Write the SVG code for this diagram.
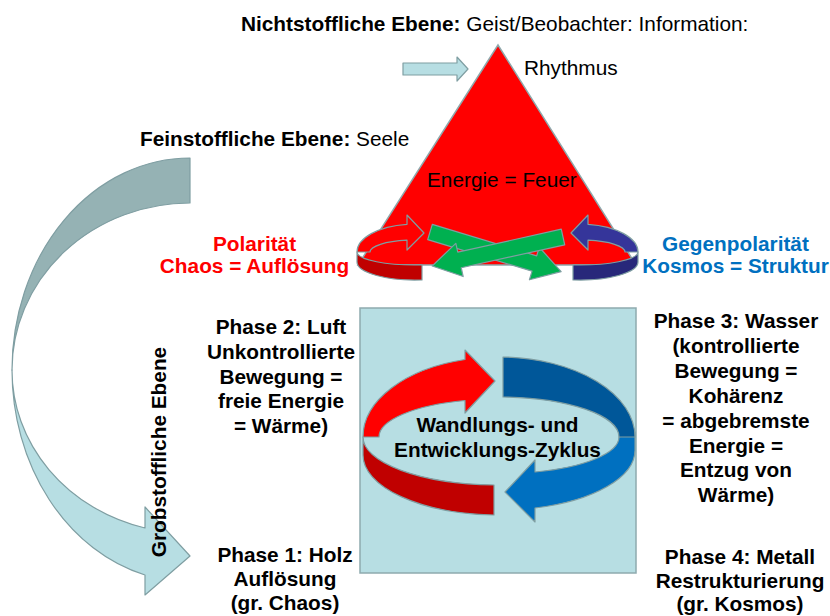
<svg xmlns="http://www.w3.org/2000/svg" width="830" height="616" viewBox="0 0 830 616">
<style>
text{font-family:"Liberation Sans",Arial,sans-serif;font-size:20.8px;fill:#000}
.b{font-weight:bold}
.m{text-anchor:middle}
.red{fill:#FF0000}
.blu{fill:#0070C0}
.ol{stroke:#7F9EA2;stroke-width:1.2;stroke-linejoin:round}
</style>
<rect width="830" height="616" fill="#FFFFFF"/>

<g id="title">
<text x="241" y="31"><tspan class="b">Nichtstoffliche Ebene:</tspan> Geist/Beobachter: Information:</text>
</g>

<g id="feinstoff">
<text x="140" y="146"><tspan class="b">Feinstoffliche Ebene:</tspan> Seele</text>
</g>

<g id="big-arc">
<path class="ol" fill="#95B2B4" d="M190,158 A178,212 0 0 0 12,370 A178,167 0 0 1 190,203 Z"/>
<path class="ol" fill="#B7DEE3" d="M12,370 A178,212 0 0 0 145,575 L145,595 L190,556 L145,507 L145,528 A178,163 0 0 1 12,370 Z"/>
<text class="b m" x="166" y="452" transform="rotate(-90 166 452)">Grobstoffliche Ebene</text>
</g>

<g id="rhythm-arrow">
<path class="ol" fill="#B7DEE3" d="M403,63 L457,63 L457,57 L468,69 L457,81 L457,75 L403,75 Z"/>
<text x="524" y="75">Rhythmus</text>
</g>

<g id="triangle">
<path fill="#FF0000" stroke="#8FA8AC" stroke-width="1.5" d="M498,45 L358,265 L636,265 Z"/>
<text x="427" y="187">Energie = Feuer</text>
</g>

<g id="polarity-rings">
<g id="ring-left">
<path class="ol" fill="#C00000" d="M357,252 L357,262 A58,18 0 0 0 422,279.9 L422,264.9 A58,13 0 0 1 357,252 Z"/>
<path class="ol" fill="#FF0000" d="M357,252 A58,28 0 0 1 407,224.3 L407,215 L424,233 L407,250 L407,240.2 A45,12 0 0 0 370,252 Z"/>
</g>
<g id="ring-right" transform="translate(995,0) scale(-1,1)">
<path class="ol" fill="#28287A" d="M357,252 L357,262 A58,18 0 0 0 422,279.9 L422,264.9 A58,13 0 0 1 357,252 Z"/>
<path class="ol" fill="#35359A" d="M357,252 A58,28 0 0 1 407,224.3 L407,215 L424,233 L407,250 L407,240.2 A45,12 0 0 0 370,252 Z"/>
</g>
<g id="green-arrows">
<path class="ol" fill="#00B050" transform="translate(430,232) rotate(16.8)" d="M0,-8 L109,-8 L109,-17 L137,0 L109,17 L109,8 L0,8 Z"/>
<path class="ol" fill="#00B050" transform="translate(563,237) rotate(167.5)" d="M0,-8 L106,-8 L106,-17 L134,0 L106,17 L106,8 L0,8 Z"/>
</g>
</g>

<g id="polaritaet">
<text class="b m red" x="254.5" y="250.5">Polarität</text>
<text class="b m red" x="254.5" y="272.5">Chaos = Auflösung</text>
</g>
<g id="gegenpolaritaet">
<text class="b m blu" x="735.5" y="250.5">Gegenpolarität</text>
<text class="b m blu" x="735.5" y="272.5">Kosmos = Struktur</text>
</g>

<g id="cycle">
<rect x="360" y="308" width="276" height="265" fill="#B7DEE3" stroke="#8EAAAE" stroke-width="1.5"/>
<path class="ol" fill="#C00000" d="M363,437 L363,455 A136,60 0 0 0 494,515 L494,485 A136,48 0 0 1 363,437 Z"/>
<path class="ol" fill="#FF0000" d="M363,437 A136,80 0 0 1 465,359.5 L465,350 L495,381 L465,413 L465,400.5 A120,38 0 0 0 379,437 Z"/>
<path class="ol" fill="#0070C0" d="M635,432 L635,450 A136,60 0 0 1 535,508 L535,522 L505,492 L535,460 L535,472 A120,36.7 0 0 0 619,437 Z"/>
<path class="ol" fill="#005799" d="M503,357 A136,80 0 0 1 635,437 L619,437 A120,40 0 0 0 503,397 Z"/>
<text class="b m" x="497.5" y="432">Wandlungs- und</text>
<text class="b m" x="497.5" y="457">Entwicklungs-Zyklus</text>
</g>

<g id="phase2">
<text class="b m" x="281"><tspan x="281" y="334">Phase 2: Luft</tspan><tspan x="281" y="358.8">Unkontrollierte</tspan><tspan x="281" y="383.6">Bewegung =</tspan><tspan x="281" y="408.4">freie Energie</tspan><tspan x="281" y="433.2">= Wärme)</tspan></text>
</g>
<g id="phase3">
<text class="b m" x="736"><tspan x="736" y="328">Phase 3: Wasser</tspan><tspan x="736" y="352.9">(kontrollierte</tspan><tspan x="736" y="377.8">Bewegung =</tspan><tspan x="736" y="402.7">Kohärenz</tspan><tspan x="736" y="427.6">= abgebremste</tspan><tspan x="736" y="452.5">Energie =</tspan><tspan x="736" y="477.4">Entzug von</tspan><tspan x="736" y="502.3">Wärme)</tspan></text>
</g>
<g id="phase1">
<text class="b m" x="285"><tspan x="285" y="562">Phase 1: Holz</tspan><tspan x="285" y="586">Auflösung</tspan><tspan x="285" y="610">(gr. Chaos)</tspan></text>
</g>
<g id="phase4">
<text class="b m" x="740"><tspan x="740" y="564">Phase 4: Metall</tspan><tspan x="740" y="588">Restrukturierung</tspan><tspan x="740" y="611">(gr. Kosmos)</tspan></text>
</g>
</svg>
